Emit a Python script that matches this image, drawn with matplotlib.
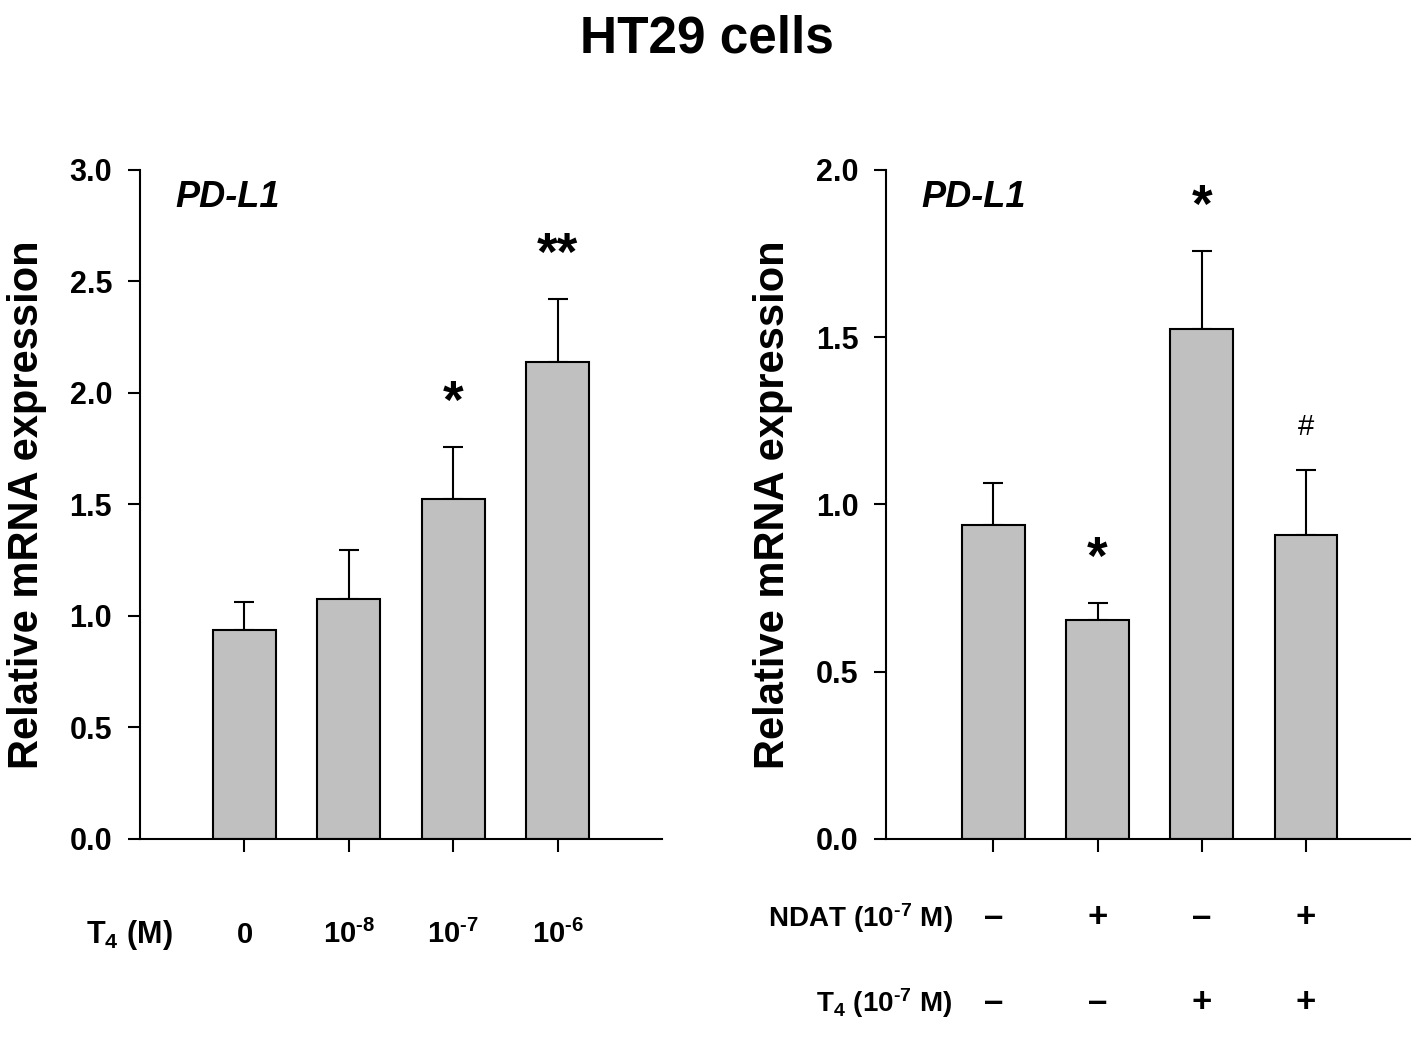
import matplotlib
matplotlib.use("Agg")
from matplotlib import pyplot as plt
import matplotlib.transforms as mtransforms

plt.rcParams["font.family"] = ["Liberation Sans", "DejaVu Sans"]
plt.rcParams["mathtext.fontset"] = "custom"
plt.rcParams["mathtext.rm"] = "Liberation Sans:bold"
plt.rcParams["mathtext.bf"] = "Liberation Sans:bold"
plt.rcParams["mathtext.it"] = "Liberation Sans:bold:italic"

# left panel: T4 dose
dose_labels = [r"$\mathrm{0}$", r"$\mathrm{10}^{\text{-8}}$", r"$\mathrm{10}^{\text{-7}}$", r"$\mathrm{10}^{\text{-6}}$"]
dose_means = [0.937, 1.076, 1.525, 2.139]
dose_err = [0.126, 0.220, 0.233, 0.281]
dose_marks = ["", "", "*", "**"]

# right panel: NDAT / T4 combos
ndat_signs = ["–", "+", "–", "+"]
t4_signs = ["–", "–", "+", "+"]
combo_means = [0.939, 0.655, 1.525, 0.909]
combo_err = [0.125, 0.051, 0.233, 0.194]
combo_marks = ["", "*", "*", "#"]

BAR_COLOR = "#c0c0c0"

fig = plt.figure(figsize=(14.17, 10.39), dpi=100)
ax1 = fig.add_axes([0.0988, 0.1925, 0.3684, 0.6439])
ax2 = fig.add_axes([0.6253, 0.1925, 0.3698, 0.6439])


def draw_panel(ax, means, errs, marks, ymax, yticks, xlim):
    x = list(range(len(means)))
    ax.bar(x, means, width=0.6, color=BAR_COLOR, edgecolor="black", linewidth=1.5, zorder=2)
    ax.errorbar(x, means, yerr=[[0] * len(errs), errs], fmt="none", ecolor="black",
                elinewidth=1.5, capsize=7.5, capthick=1.5, zorder=1)
    for xi, m, e, s in zip(x, means, errs, marks):
        if not s:
            continue
        if s == "#":
            ax.annotate(s, (xi, m + e), xytext=(0, 25), textcoords="offset points",
                        ha="center", va="baseline", fontsize=21)
        else:
            ax.annotate(s, (xi, m + e), xytext=(0, 21), textcoords="offset points",
                        ha="center", va="baseline", fontsize=38, fontweight="bold")
    ax.set_xlim(*xlim)
    ax.set_ylim(0, ymax)
    ax.set_yticks(yticks)
    ax.set_yticklabels([f"{v:.1f}" for v in yticks])
    ax.set_xticks(x)
    ax.set_xticklabels([])
    for side in ("top", "right"):
        ax.spines[side].set_visible(False)
    for side in ("left", "bottom"):
        ax.spines[side].set_linewidth(1.5)
    ax.tick_params(direction="out", length=9, width=1.5, labelsize=22, pad=11)
    for lab in ax.get_yticklabels():
        lab.set_fontweight("bold")
    ax.set_ylabel("Relative mRNA expression", fontsize=30, fontweight="bold", labelpad=16)
    ax.text(0.068, 0.985, "PD-L1", transform=ax.transAxes, fontsize=26,
            fontweight="bold", fontstyle="italic", va="top", ha="left")


draw_panel(ax1, dose_means, dose_err, dose_marks, 3.0, [0.0, 0.5, 1.0, 1.5, 2.0, 2.5, 3.0], (-1.0, 4.0))
draw_panel(ax2, combo_means, combo_err, combo_marks, 2.0, [0.0, 0.5, 1.0, 1.5, 2.0], (-1.03, 4.0))

# bottom condition rows
tr1 = mtransforms.blended_transform_factory(ax1.transData, ax1.transAxes)
for xi, lab in enumerate(dose_labels):
    ax1.text(xi, -0.143, lab, transform=tr1, ha="center", va="center", fontsize=21)
ax1.text(-0.02, -0.143, r"$\mathrm{T_4\ (M)}$", transform=ax1.transAxes,
         ha="center", va="center", fontsize=22)

tr2 = mtransforms.blended_transform_factory(ax2.transData, ax2.transAxes)
for xi, (a, b) in enumerate(zip(ndat_signs, t4_signs)):
    ax2.text(xi, -0.118, a, transform=tr2, ha="center", va="center", fontsize=25, fontweight="bold")
    ax2.text(xi, -0.245, b, transform=tr2, ha="center", va="center", fontsize=25, fontweight="bold")
ax2.text(0.127, -0.118, r"$\mathrm{NDAT\ (10}^{\text{-7}}\mathrm{\ M)}$", transform=ax2.transAxes,
         ha="right", va="center", fontsize=20)
ax2.text(0.127, -0.245, r"$\mathrm{T_4\ (10}^{\text{-7}}\mathrm{\ M)}$", transform=ax2.transAxes,
         ha="right", va="center", fontsize=20)

fig.text(0.499, 0.962, "HT29 cells", ha="center", va="center", fontsize=37, fontweight="bold")

fig.savefig("out.png", dpi=100)
